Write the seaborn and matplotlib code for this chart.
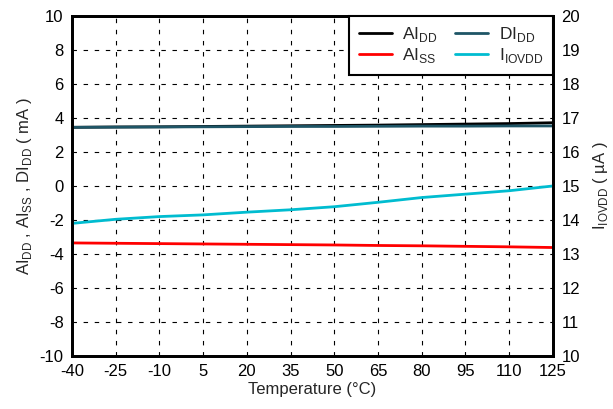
import matplotlib
matplotlib.use("Agg")
import matplotlib.pyplot as plt
import seaborn as sns
import pandas as pd

temps = [-40, -25, -10, 5, 20, 35, 50, 65, 80, 95, 110, 125]
aidd = [3.45, 3.47, 3.48, 3.50, 3.52, 3.54, 3.56, 3.58, 3.61, 3.64, 3.67, 3.72]
didd = [3.45, 3.46, 3.47, 3.48, 3.49, 3.50, 3.50, 3.51, 3.52, 3.52, 3.53, 3.53]
aiss = [-3.35, -3.37, -3.39, -3.41, -3.43, -3.45, -3.47, -3.50, -3.52, -3.55, -3.58, -3.62]
iiovdd = [13.90, 14.02, 14.10, 14.15, 14.23, 14.30, 14.39, 14.52, 14.66, 14.76, 14.86, 15.00]

left_ticks = list(range(-10, 11, 2))
right_ticks = list(range(10, 21, 1))

sns.set_theme(style="white")
plt.rcParams['font.family'] = ['Liberation Sans', 'DejaVu Sans']
plt.rcParams['mathtext.fontset'] = 'custom'
plt.rcParams['mathtext.rm'] = 'Liberation Sans'

df = pd.DataFrame({"T": temps, "AIDD": aidd, "DIDD": didd, "AISS": aiss, "IIOVDD": iiovdd})

fig = plt.figure(figsize=(6.13, 4.09), dpi=100)
ax = fig.add_axes([0.1175, 0.1296, 0.7845, 0.8314])
ax2 = ax.twinx()

lw = 2.0
sns.lineplot(data=df, x="T", y="AIDD", ax=ax, color="#000000", lw=lw, label=r"AI$_\mathregular{DD}$", legend=False)
sns.lineplot(data=df, x="T", y="AISS", ax=ax, color="#ff0000", lw=lw, label=r"AI$_\mathregular{SS}$", legend=False)
sns.lineplot(data=df, x="T", y="DIDD", ax=ax, color="#1e5566", lw=lw, label=r"DI$_\mathregular{DD}$", legend=False)
sns.lineplot(data=df, x="T", y="IIOVDD", ax=ax2, color="#00bcd0", lw=lw, label=r"I$_\mathregular{IOVDD}$", legend=False)

ax.set_xlim(-40, 125)
ax.set_ylim(-10, 10)
ax2.set_ylim(10, 20)
ax.set_xticks(temps)
ax.set_xticklabels([str(t) for t in temps])
ax.set_yticks(left_ticks)
ax.set_yticklabels([str(t) for t in left_ticks])
ax2.set_yticks(right_ticks)
ax2.set_yticklabels([str(t) for t in right_ticks])

ax.grid(True, color="black", linestyle=(0, (4, 6)), linewidth=0.8)
ax.tick_params(axis="both", length=0, labelsize=12, pad=6, colors="black")
ax2.tick_params(axis="y", length=0, labelsize=12, pad=6, colors="black")
for a in (ax, ax2):
    for s in a.spines.values():
        s.set_color("black")
        s.set_linewidth(2.0)

ax.set_xlabel("Temperature (°C)", fontsize=12, labelpad=2)
ax.set_ylabel(r"AI$_\mathregular{DD}$ , AI$_\mathregular{SS}$ , DI$_\mathregular{DD}$ ( mA )", fontsize=12, labelpad=4)
ax2.set_ylabel(r"I$_\mathregular{IOVDD}$ ( µA )", fontsize=12, labelpad=8)

h1, l1 = ax.get_legend_handles_labels()
h2, l2 = ax2.get_legend_handles_labels()
handles = h1 + h2
labels = l1 + l2
leg = ax2.legend(handles, labels, ncol=2,
                 loc="upper right", frameon=True, fancybox=False, fontsize=12.5,
                 borderaxespad=0.0, handlelength=1.9, columnspacing=1.0,
                 handletextpad=0.6, labelspacing=0.1, borderpad=0.55)
leg.get_frame().set_edgecolor("black")
leg.get_frame().set_linewidth(1.5)
leg.get_frame().set_alpha(1)

fig.savefig("out.png", dpi=100)
